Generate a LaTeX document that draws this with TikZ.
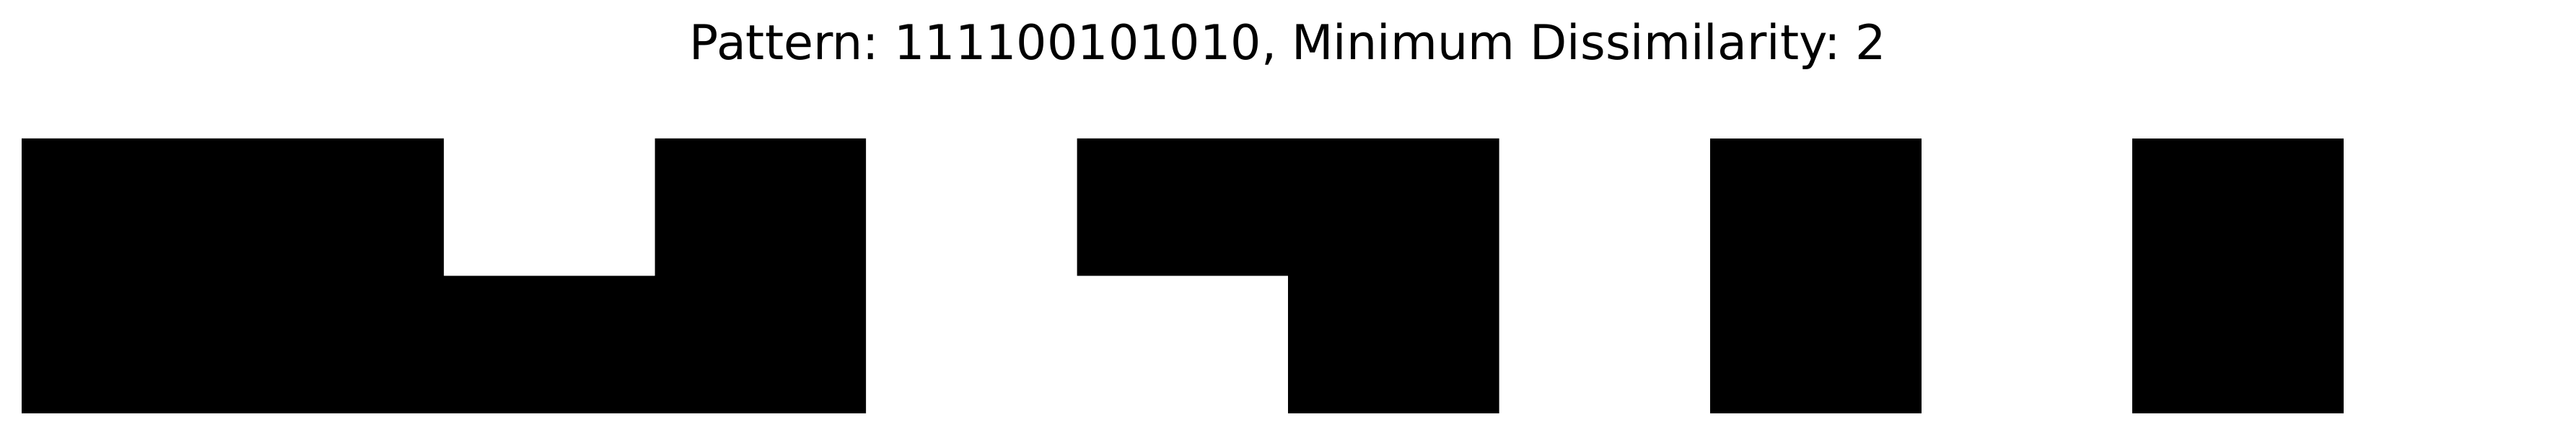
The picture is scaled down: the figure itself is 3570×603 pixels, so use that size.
\documentclass[tikz,border=0pt]{standalone}
\usepackage{fontspec}
\setmainfont{DejaVu Sans}
\begin{document}
\frenchspacing
\begin{tikzpicture}[x=0.24pt,y=-0.24pt,
  cellfill/.style={fill=black,draw=none},
  titletext/.style={anchor=base,inner sep=0pt,font=\fontsize{16}{19}\selectfont\frenchspacing}]
\useasboundingbox[fill=white] (0,0) rectangle (3570,603);
\node[titletext] (title) at (1785,83) {Pattern: 111100101010, Minimum Dissimilarity: 2};
% left block
\fill[cellfill] (30,192) -- (615,192) -- (615,382.5) -- (907.5,382.5) -- (907.5,192) -- (1200,192) -- (1200,573) -- (30,573) -- cycle;
% hook block
\fill[cellfill] (1492.5,192) -- (2077.5,192) -- (2077.5,573) -- (1785,573) -- (1785,382.5) -- (1492.5,382.5) -- cycle;
% bars
\fill[cellfill] (2370,192) rectangle (2662.5,573);
\fill[cellfill] (2955,192) rectangle (3247.5,573);
\end{tikzpicture}
\end{document}
